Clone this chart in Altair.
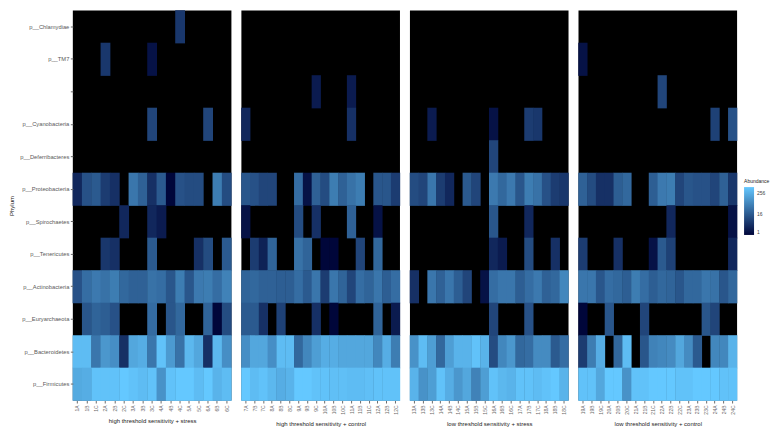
import altair as alt
import pandas as pd

N = None
phyla = ["p__Chlamydiae", "p__TM7", " ", "p__Cyanobacteria", "p__Deferribacteres",
         "p__Proteobacteria", "p__Spirochaetes", "p__Tenericutes", "p__Actinobacteria",
         "p__Euryarchaeota", "p__Bacteroidetes", "p__Firmicutes"]

samples_1 = ["1A","1B","1C","2A","2B","2C","3A","3B","3C","4A","4B","4C","5A","5C","6A","6B","6C"]
samples_2 = ["7A","7B","7C","8A","8B","8C","9A","9B","9C","10A","10B","10C","11A","11B","11C","12A","12B","12C"]
samples_3 = ["13A","13B","13C","14A","14B","14C","15A","15B","15C","16A","16B","16C","17A","17B","17C","18A","18B","18C"]
samples_4 = ["19A","19B","19C","20A","20B","20C","21A","21B","21C","22A","22B","22C","23A","23B","23C","24A","24B","24C"]

titles = ["high threshold sensitivity + stress", "high threshold sensitivity + control",
          "low threshold sensitivity + stress", "low threshold sensitivity + control"]

panel_1 = [
 [N,N,N,N,N,N,N,N,N,N,N,5,N,N,N,N,N],
 [N,N,N,5,N,N,N,N,1.5,N,N,N,N,N,N,N,N],
 [N,N,N,N,N,N,N,N,N,N,N,N,N,N,N,N,N],
 [N,N,N,N,N,N,N,N,8,N,N,N,N,N,8,N,N],
 [N,N,N,N,N,N,N,N,N,N,N,N,N,N,N,N,N],
 [3,12,16,6,4,N,40,20,4,16,1,12,10,10,N,50,10],
 [N,N,N,N,N,3,N,N,3,2,N,N,N,N,N,N,N],
 [N,N,N,5,4,N,N,N,16,N,N,N,N,4,10,N,16],
 [12,30,45,35,50,25,20,20,35,30,14,50,14,45,50,30,60],
 [N,14,22,18,12,N,N,N,28,N,14,25,N,N,22,1,10],
 [400,400,40,120,90,4,200,250,40,500,130,35,350,200,4,350,90],
 [220,250,500,500,500,700,500,400,500,100,500,600,600,400,600,300,400],
]
panel_2 = [
 [N]*18,
 [N]*18,
 [N,N,N,N,N,N,N,N,2,N,N,N,2,N,N,N,N,N],
 [3,N,N,N,N,N,N,N,N,N,N,N,4,N,N,N,N,N],
 [N]*18,
 [14,12,8,8,N,N,30,1.5,20,10,50,20,35,50,N,14,14,6],
 [1.5,N,N,N,N,N,10,N,4,N,N,N,20,N,N,1.5,N,N],
 [N,6,2.5,22,N,N,35,22,N,1,1,N,N,8,N,25,N,N],
 [22,25,20,20,18,18,30,16,40,6,40,22,8,30,22,40,18,30],
 [16,16,4,N,7,N,N,N,4,N,1,N,N,N,N,22,N,2],
 [90,200,200,90,400,400,25,70,150,250,250,200,200,200,200,70,250,50],
 [600,400,500,350,250,300,700,700,500,500,450,450,400,400,450,500,500,500],
]
panel_3 = [
 [N]*18,
 [N]*18,
 [N]*18,
 [N,N,2,N,N,N,N,N,N,1.5,N,N,N,6,5,N,N,N],
 [N,N,N,N,N,N,N,N,N,8,N,N,N,N,N,N,N,N],
 [10,8,40,6,3,N,16,8,N,45,25,45,14,50,35,12,6,5],
 [N,N,N,N,N,N,N,N,N,14,N,N,N,3,N,N,N,N],
 [N,N,N,N,N,N,N,N,N,3,2,N,N,10,N,N,4,N],
 [4,N,40,20,40,18,8,N,1.5,30,40,40,18,30,45,20,25,70],
 [N,N,N,N,N,N,N,N,N,8,N,N,N,12,N,N,N,N],
 [100,400,150,25,150,300,300,500,300,10,70,120,25,30,80,80,16,30],
 [300,100,150,500,250,120,200,60,150,500,350,300,500,500,400,500,600,300],
]
panel_4 = [
 [N]*18,
 [1.5,N,N,N,N,N,N,N,N,N,N,N,N,N,N,N,N,N],
 [N,N,N,N,N,N,N,N,N,8,N,N,N,N,N,N,N,N],
 [N,N,N,N,N,N,N,N,N,N,N,N,N,N,N,7,N,12],
 [N]*18,
 [20,10,4,4,18,25,N,N,18,45,50,8,14,12,12,8,20,5],
 [N,N,N,N,N,N,N,N,N,N,3,N,N,N,N,N,N,1.5],
 [6,N,N,N,4,N,N,N,1.5,16,7,N,N,N,N,N,N,3],
 [40,40,14,30,25,18,50,30,18,25,22,14,25,25,40,35,14,25],
 [1,N,N,14,N,N,N,8,N,N,N,N,N,N,14,8,N,N],
 [6,50,250,N,25,400,N,14,60,70,80,200,80,16,N,70,70,300],
 [500,500,200,600,600,100,500,500,600,600,600,500,500,600,600,600,500,500],
]

color_scale = alt.Scale(type="log", base=2, domain=[1, 600], clamp=True,
                        range=["#00063a", "#64c8ff"], interpolate="rgb")
FONT = "Liberation Sans"


def panel(samples, table, title, first):
    rows = [{"Phylum": p, "Sample": s, "Abundance": v}
            for p, vals in zip(phyla, table) for s, v in zip(samples, vals) if v is not None]
    y_axis = alt.Axis(title="Phylum" if first else None, labels=first, ticks=first, domain=False,
                      grid=False, labelFontSize=5.8, labelColor="#5a5a5a", tickColor="#6a6a6a",
                      tickSize=2.5, labelPadding=1.5, titleFontSize=6, titleColor="#222222",
                      titleFontWeight="normal", titleFont=FONT, labelFont=FONT, titlePadding=5)
    x_axis = alt.Axis(title=title, labelAngle=-90, domain=False, grid=False, labelFontSize=5,
                      labelColor="#6a6a6a", tickColor="#6a6a6a", tickSize=2.5, labelPadding=2,
                      titleFontSize=6, titleColor="#222222", titleFontWeight="normal",
                      titleFont=FONT, labelFont=FONT, titlePadding=6)
    legend = alt.Legend(
        title="Abundance", values=[1, 16, 256], orient="none", legendX=673, legendY=169,
        padding=0, gradientLength=48, gradientThickness=10, titleFontSize=5, titleFont=FONT,
        titleFontWeight="normal", titleColor="#222222", labelFontSize=5, labelFont=FONT,
        labelColor="#444444", gradientStrokeWidth=0, titlePadding=3, labelOffset=3)
    return alt.Chart(pd.DataFrame(rows)).mark_rect(
        width=alt.RelativeBandSize(band=1.05), height=alt.RelativeBandSize(band=1.02)
    ).encode(
        x=alt.X("Sample:N", sort=samples, axis=x_axis,
                scale=alt.Scale(domain=samples, paddingInner=0, paddingOuter=0)),
        y=alt.Y("Phylum:N", sort=phyla, axis=y_axis,
                scale=alt.Scale(domain=phyla, paddingInner=0, paddingOuter=0)),
        color=alt.Color("Abundance:Q", scale=color_scale, legend=legend),
    ).properties(width=159, height=391)


chart = alt.hconcat(
    panel(samples_1, panel_1, titles[0], True),
    panel(samples_2, panel_2, titles[1], False),
    panel(samples_3, panel_3, titles[2], False),
    panel(samples_4, panel_4, titles[3], False),
    spacing=8,
).resolve_scale(color="shared").configure_view(fill="#000000", stroke=None).properties(
    padding={"left": 0, "top": 1, "right": 0, "bottom": 0}, background="#ffffff")

chart.save("out.html", embed_options={"renderer": "svg", "actions": False})
